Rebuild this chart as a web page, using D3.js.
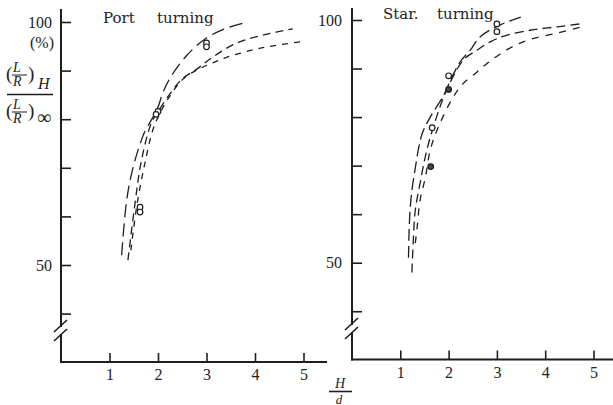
<!DOCTYPE html>
<html>
<head>
<meta charset="utf-8">
<script src="https://cdn.jsdelivr.net/npm/d3@7/dist/d3.min.js"></script>
<style>
  html, body { margin: 0; padding: 0; background: #fff; }
  svg { display: block; }
  text { fill: #222; }
</style>
</head>
<body>
<svg id="chart" width="613" height="405" font-family="'Liberation Serif', 'Times New Roman', serif"></svg>
<script>
// ---- data: ratio (L/R)_H / (L/R)_inf in % against depth ratio H/d ----
const xTicks = [1, 2, 3, 4, 5];
const yTicks = [40, 50, 60, 70, 80, 90, 100];
const yLabelled = [50, 100];

const portTitle = ["Port", "turning"];
const starTitle = ["Star.", "turning"];

// port turning – three fitted curves
const portA = [[1.25,52],[1.35,63],[1.46,69],[1.6,74],[1.73,77.5],[1.9,80.5],[2.0,82.5],[2.1,85.4],[2.25,88.5],[2.6,93.2],[3.0,96.7],[3.4,98.7],[3.84,100]];
const portB = [[1.38,51],[1.53,63],[1.66,71.6],[1.87,79.4],[2.0,81.5],[2.2,84.6],[2.5,88.3],[2.8,90.3],[3.13,92.8],[3.63,95.7],[4.2,97.4],[4.78,98.6]];
const portC = [[1.44,53],[1.56,62],[1.72,70.5],[1.9,78],[2.03,81],[2.2,84.1],[2.52,88.3],[2.8,90.1],[3.13,91.6],[3.5,93],[4.2,94.8],[4.93,95.9]];
// port turning – measured points
const portPts = [[3.0,95.7],[3.0,94.9],[2.0,81.6],[1.96,81.0],[1.63,61.9],[1.63,60.9]];

// starboard turning – three fitted curves
const starA = [[1.17,51],[1.18,56],[1.22,63],[1.31,69.5],[1.45,76.5],[1.62,80],[1.9,84.5],[2.04,87.6],[2.24,91.4],[2.45,93.8],[2.66,96.6],[3.07,99],[3.52,100.7]];
const starB = [[1.24,48],[1.27,54.7],[1.31,60.8],[1.41,66.4],[1.55,73.2],[1.75,80],[1.96,85.6],[2.31,91.8],[2.59,93.8],[2.86,95.5],[3.21,96.9],[3.76,98],[4.25,98.6],[4.8,99.3]];
const starC = [[1.31,54],[1.35,57.4],[1.41,62.9],[1.52,67.6],[1.62,73.2],[1.79,78],[2.1,84.2],[2.31,87],[2.59,89.3],[2.8,91.1],[3.07,93],[3.42,95],[3.76,96.2],[4.25,97.3],[4.73,98.5]];
// starboard turning – measured points (third entry: filled)
const starPts = [[3.0,99.2,0],[3.0,97.6,0],[2.0,88.5,0],[2.0,85.7,1],[1.66,77.8,0],[1.63,69.8,1]];

const svg = d3.select("#chart");
const ink = "#1e1e1e";
const serif = "'Liberation Serif', 'Times New Roman', serif";
const wideSerif = "'DejaVu Serif', serif";

function panel(cfg) {
  const x = d3.scaleLinear().domain([0, 5]).range([cfg.x0, cfg.x5]);
  const y = d3.scaleLinear().domain([50, 100]).range([cfg.y50, cfg.y100]);
  const g = svg.append("g");

  // y axis with break marks
  const ax = cfg.x0;
  g.append("line").attr("x1", ax).attr("x2", ax).attr("y1", cfg.yTop).attr("y2", cfg.brk - 3)
    .attr("stroke", ink).attr("stroke-width", 2);
  g.append("line").attr("x1", ax).attr("x2", ax).attr("y1", cfg.brk + 4).attr("y2", cfg.base + 1)
    .attr("stroke", ink).attr("stroke-width", 2);
  [-4, 5].forEach(d => {
    g.append("line")
      .attr("x1", ax - 7).attr("y1", cfg.brk + d + 6)
      .attr("x2", ax + 6).attr("y2", cfg.brk + d - 6)
      .attr("stroke", ink).attr("stroke-width", 1.6);
  });
  // x axis line
  g.append("line").attr("x1", ax - 1).attr("x2", cfg.xEnd).attr("y1", cfg.base).attr("y2", cfg.base)
    .attr("stroke", ink).attr("stroke-width", 2);

  // y ticks pointing inward
  const yAxis = d3.axisLeft(y).tickValues(yTicks).tickSize(-10).tickPadding(cfg.yPad)
    .tickFormat(d => yLabelled.includes(d) ? d : "");
  const yg = g.append("g").attr("transform", `translate(${ax},0)`).call(yAxis);
  yg.select(".domain").remove();
  yg.selectAll(".tick line").attr("stroke", ink).attr("stroke-width", 1.6);
  yg.selectAll(".tick text").style("font-size", "16px").style("font-family", serif).attr("fill", ink);

  // x ticks pointing upward
  const xAxis = d3.axisBottom(x).tickValues(xTicks).tickSize(-9).tickPadding(7).tickFormat(d3.format("d"));
  const xg = g.append("g").attr("transform", `translate(0,${cfg.base})`).call(xAxis);
  xg.select(".domain").remove();
  xg.selectAll(".tick line").attr("stroke", ink).attr("stroke-width", 1.6);
  xg.selectAll(".tick text").style("font-size", "16px").style("font-family", serif).attr("fill", ink);

  // curves
  const line = d3.line().x(d => x(d[0])).y(d => y(d[1])).curve(d3.curveCatmullRom.alpha(0.5));
  cfg.curves.forEach(c => {
    g.append("path").datum(c.data).attr("d", line)
      .attr("fill", "none").attr("stroke", ink).attr("stroke-width", 1.3)
      .attr("stroke-dasharray", c.dash);
  });

  // measured points
  g.selectAll("circle.pt").data(cfg.pts).join("circle").attr("class", "pt")
    .attr("cx", d => x(d[0])).attr("cy", d => y(d[1])).attr("r", 2.8)
    .attr("fill", d => d[2] ? "#444" : "#fff").attr("stroke", ink).attr("stroke-width", 1.2);

  // title
  g.append("text").attr("x", cfg.t1x).attr("y", cfg.ty)
    .style("font-size", "15px").style("font-family", wideSerif).text(cfg.title[0]);
  g.append("text").attr("x", cfg.t2x).attr("y", cfg.ty)
    .style("font-size", "15px").style("font-family", wideSerif).text(cfg.title[1]);
}

panel({
  x0: 61, x5: 303.5, xEnd: 327, y50: 265, y100: 22, yTop: 9, brk: 330, base: 362, yPad: 9,
  title: portTitle, t1x: 103, t2x: 157, ty: 23,
  curves: [
    { data: portA, dash: "13,6" },
    { data: portB, dash: "8,5" },
    { data: portC, dash: "6,6" }
  ],
  pts: portPts.map(p => [p[0], p[1], 0])
});

panel({
  x0: 352, x5: 593.5, xEnd: 613, y50: 262.7, y100: 20, yTop: 8, brk: 328, base: 359.5, yPad: 10,
  title: starTitle, t1x: 383, t2x: 437, ty: 19,
  curves: [
    { data: starA, dash: "12,5" },
    { data: starB, dash: "9,5" },
    { data: starC, dash: "7,7" }
  ],
  pts: starPts
});

// y-axis label: (%) and (L/R)_H / (L/R)_inf
const yl = svg.append("g");
yl.append("text").attr("x", 30).attr("y", 48).style("font-size", "16px").text("(%)");
function ratio(yTop, suffix, sx, sy) {
  yl.append("text").attr("x", 6).attr("y", yTop + 14).style("font-size", "19px").text("(");
  yl.append("text").attr("x", 13).attr("y", yTop + 6).style("font-size", "14px").style("font-style", "italic").text("L");
  yl.append("line").attr("x1", 12).attr("x2", 27).attr("y1", yTop + 9).attr("y2", yTop + 9).attr("stroke", ink).attr("stroke-width", 1);
  yl.append("text").attr("x", 13).attr("y", yTop + 20).style("font-size", "14px").style("font-style", "italic").text("R");
  yl.append("text").attr("x", 28).attr("y", yTop + 14).style("font-size", "19px").text(")");
  yl.append("text").attr("x", sx).attr("y", sy).style("font-size", suffix === "H" ? "16px" : "20px")
    .style("font-style", suffix === "H" ? "italic" : "normal").text(suffix);
}
ratio(66, "H", 38, 89);
yl.append("line").attr("x1", 7).attr("x2", 53).attr("y1", 94.5).attr("y2", 94.5).attr("stroke", ink).attr("stroke-width", 1.6);
ratio(103, "∞", 37, 124);

// x-axis label H/d
const xl = svg.append("g");
xl.append("text").attr("x", 340).attr("y", 388).attr("text-anchor", "middle")
  .style("font-size", "14px").style("font-style", "italic").text("H");
xl.append("line").attr("x1", 329).attr("x2", 352).attr("y1", 391.5).attr("y2", 391.5).attr("stroke", ink).attr("stroke-width", 1.6);
xl.append("text").attr("x", 339).attr("y", 403.5).attr("text-anchor", "middle")
  .style("font-size", "13px").style("font-style", "italic").text("d");
</script>
</body>
</html>
